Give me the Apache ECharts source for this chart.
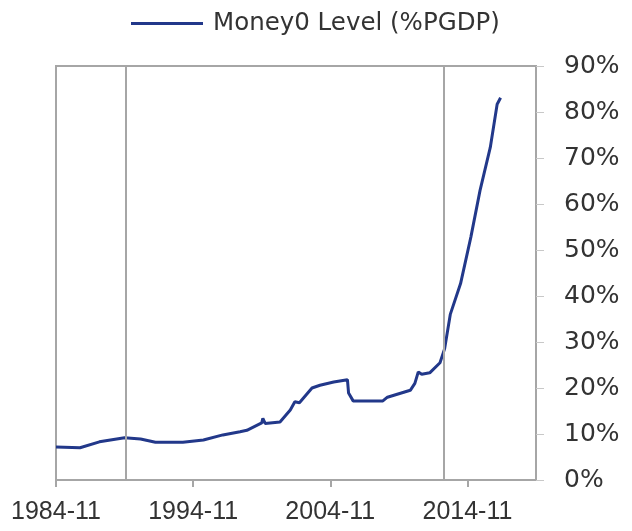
<!DOCTYPE html>
<html>
<head>
<meta charset="utf-8">
<script src="https://cdn.jsdelivr.net/npm/echarts@6/dist/echarts.min.js"></script>
<style>
html,body{margin:0;padding:0;background:#fff;}
#chart{width:632px;height:531px;}
</style>
</head>
<body>
<div id="chart"></div>
<script>
const seriesName = 'Money0 Level (%PGDP)';
const startDate = '1984-11';
const endDate = '2019-11';
const tickStepMonths = 120;
const markerDates = ['1989-12', '2013-02'];
const yTicks = [0, 10, 20, 30, 40, 50, 60, 70, 80, 90];

const dates = [
  '1984-11','1986-08','1988-01','1989-11','1991-01','1992-02','1994-02','1995-08','1997-01','1998-04',
  '1998-10','1999-11','1999-12','2000-02','2001-03','2001-12','2002-04','2002-08','2003-07','2004-02',
  '2005-02','2006-02','2006-03','2006-07','2008-09','2009-01','2010-09','2011-01','2011-04','2011-07',
  '2012-02','2012-11','2013-03','2013-08','2014-05','2015-02','2015-10','2016-07','2017-01','2017-04'
];
const values = [
  7.2, 7.0, 8.3, 9.2, 8.9, 8.2, 8.2, 8.7, 9.8, 10.5,
  10.8, 12.4, 13.4, 12.3, 12.6, 15.2, 17.0, 16.8, 20.0, 20.6,
  21.3, 21.8, 18.9, 17.2, 17.2, 18.0, 19.5, 21.0, 23.5, 23.0,
  23.3, 25.5, 28.5, 36.0, 42.7, 52.8, 62.9, 72.3, 81.7, 83.1
];

function toIdx(s) {
  const [y, m] = s.split('-').map(Number);
  const [y0, m0] = startDate.split('-').map(Number);
  return (y - y0) * 12 + (m - m0);
}
function toDate(idx) {
  const [y0, m0] = startDate.split('-').map(Number);
  const t = y0 * 12 + (m0 - 1) + Math.round(idx);
  const y = Math.floor(t / 12), m = t % 12 + 1;
  return y + '-' + (m < 10 ? '0' + m : m);
}

const chart = echarts.init(document.getElementById('chart'), null, {renderer: 'canvas'});
const FONT = 'DejaVu Sans';
const XFONT = "'Liberation Sans', Arial, sans-serif";
const GRAY = '#a6a6a6';
chart.setOption({
  animation: false,
  backgroundColor: '#fff',
  textStyle: {fontFamily: FONT},
  legend: {
    top: 6, left: 126,
    itemWidth: 72, itemHeight: 3, itemGap: 10,
    textStyle: {fontSize: 24.5, color: '#333', fontFamily: FONT, padding: [0,0,0,5]},
    data: [{name: seriesName, icon: 'rect'}]
  },
  grid: {left: 56, right: 96, top: 66, bottom: 51, show: true, borderColor: GRAY, borderWidth: 2},
  xAxis: {
    type: 'value', min: 0, max: toIdx(endDate), interval: tickStepMonths,
    splitLine: {show: false},
    axisLine: {show: true, onZero: false, lineStyle: {color: GRAY, width: 2}},
    axisTick: {show: true, inside: false, length: 7, lineStyle: {color: GRAY, width: 2}},
    axisLabel: {
      showMaxLabel: false, margin: 20, fontSize: 25, color: '#333', fontFamily: XFONT,
      formatter: v => toDate(v)
    }
  },
  yAxis: {
    type: 'value', position: 'right', min: yTicks[0], max: yTicks[yTicks.length-1], interval: 10,
    splitLine: {show: false},
    axisLine: {show: true, onZero: false, lineStyle: {color: GRAY, width: 2}},
    axisTick: {show: true, inside: false, length: 8, lineStyle: {color: '#c8c8c8', width: 1}},
    axisLabel: {margin: 28, fontSize: 25, color: '#333', fontFamily: FONT, formatter: '{value}%'}
  },
  series: [{
    name: seriesName,
    type: 'line',
    symbol: 'none',
    color: '#22388a',
    lineStyle: {width: 3, color: '#22388a'},
    data: dates.map((d, i) => [toIdx(d), values[i]]),
    markLine: {
      silent: true, symbol: 'none', label: {show: false},
      lineStyle: {color: GRAY, width: 2, type: 'solid'},
      data: markerDates.map(d => ({xAxis: toIdx(d)}))
    }
  }]
});
</script>
</body>
</html>
